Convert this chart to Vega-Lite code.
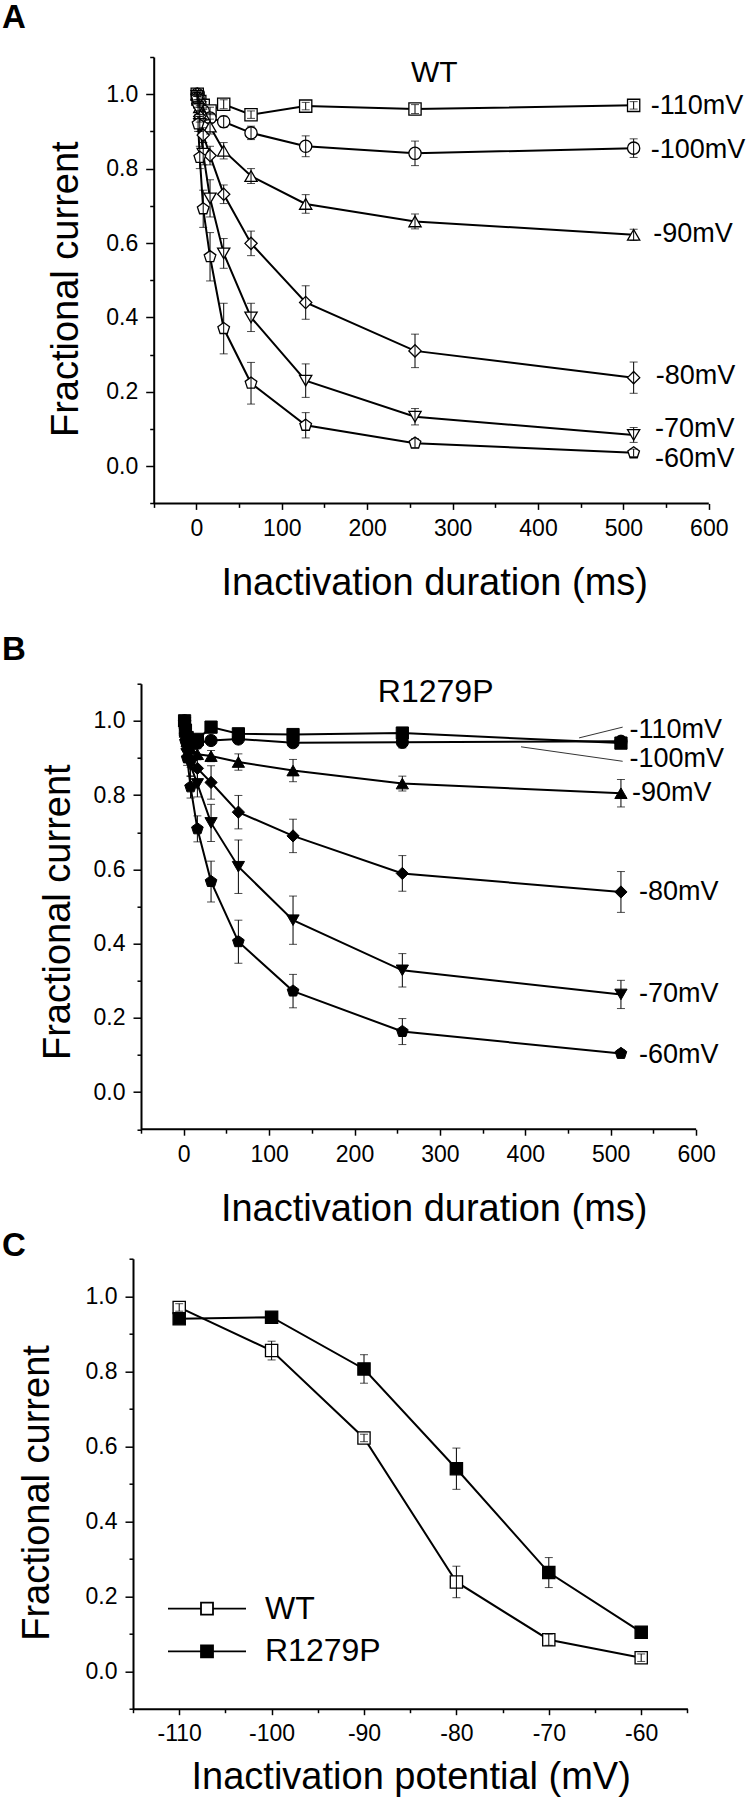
{
  "$schema": "https://vega.github.io/schema/vega-lite/v6.json",
  "padding": {"left": 2, "top": 2, "right": 0, "bottom": 0},
  "config": {
    "font": "Liberation Sans",
    "view": {"stroke": null},
    "axis": {"domainColor": "black", "domainWidth": 2, "tickColor": "black", "tickWidth": 1.5, "labelColor": "black", "labelFontSize": 23, "labelFont": "Liberation Sans", "titleFont": "Liberation Sans", "titleFontSize": 38, "titleFontWeight": "normal", "titleColor": "black", "grid": false, "labelPadding": 8, "labelFlush": false, "labelOverlap": false, "tickCount": 100},
    "title": {"font": "Liberation Sans", "color": "black"}
  },
  "resolve": {"legend": {"fill": "independent"}},
  "datasets": {
    "wt": [
      {"v":"-110mV","t":1,"y":1.0,"e":0.005},{"v":"-110mV","t":2,"y":0.99,"e":0.01},{"v":"-110mV","t":4,"y":0.98,"e":0.01},{"v":"-110mV","t":8,"y":0.97,"e":0.01},{"v":"-110mV","t":16,"y":0.955,"e":0.01},{"v":"-110mV","t":32,"y":0.973,"e":0.012},{"v":"-110mV","t":64,"y":0.945,"e":0.01},{"v":"-110mV","t":128,"y":0.968,"e":0.01},{"v":"-110mV","t":256,"y":0.960,"e":0.012},{"v":"-110mV","t":512,"y":0.970,"e":0.01},
      {"v":"-100mV","t":1,"y":1.0,"e":0.005},{"v":"-100mV","t":2,"y":0.99,"e":0.01},{"v":"-100mV","t":4,"y":0.975,"e":0.01},{"v":"-100mV","t":8,"y":0.955,"e":0.01},{"v":"-100mV","t":16,"y":0.936,"e":0.012},{"v":"-100mV","t":32,"y":0.926,"e":0.015},{"v":"-100mV","t":64,"y":0.896,"e":0.018},{"v":"-100mV","t":128,"y":0.860,"e":0.028},{"v":"-100mV","t":256,"y":0.841,"e":0.033},{"v":"-100mV","t":512,"y":0.855,"e":0.025},
      {"v":"-90mV","t":1,"y":1.0,"e":0.005},{"v":"-90mV","t":2,"y":0.985,"e":0.01},{"v":"-90mV","t":4,"y":0.965,"e":0.01},{"v":"-90mV","t":8,"y":0.945,"e":0.015},{"v":"-90mV","t":16,"y":0.913,"e":0.02},{"v":"-90mV","t":32,"y":0.848,"e":0.022},{"v":"-90mV","t":64,"y":0.780,"e":0.02},{"v":"-90mV","t":128,"y":0.705,"e":0.025},{"v":"-90mV","t":256,"y":0.658,"e":0.02},{"v":"-90mV","t":512,"y":0.622,"e":0.015},
      {"v":"-80mV","t":1,"y":1.0,"e":0.005},{"v":"-80mV","t":2,"y":0.975,"e":0.01},{"v":"-80mV","t":4,"y":0.94,"e":0.015},{"v":"-80mV","t":8,"y":0.89,"e":0.02},{"v":"-80mV","t":16,"y":0.835,"e":0.025},{"v":"-80mV","t":32,"y":0.731,"e":0.025},{"v":"-80mV","t":64,"y":0.599,"e":0.033},{"v":"-80mV","t":128,"y":0.440,"e":0.045},{"v":"-80mV","t":256,"y":0.310,"e":0.045},{"v":"-80mV","t":512,"y":0.238,"e":0.042},
      {"v":"-70mV","t":1,"y":0.995,"e":0.01},{"v":"-70mV","t":2,"y":0.96,"e":0.015},{"v":"-70mV","t":4,"y":0.92,"e":0.02},{"v":"-70mV","t":8,"y":0.84,"e":0.03},{"v":"-70mV","t":16,"y":0.720,"e":0.05},{"v":"-70mV","t":32,"y":0.572,"e":0.04},{"v":"-70mV","t":64,"y":0.400,"e":0.038},{"v":"-70mV","t":128,"y":0.230,"e":0.045},{"v":"-70mV","t":256,"y":0.133,"e":0.022},{"v":"-70mV","t":512,"y":0.084,"e":0.02},
      {"v":"-60mV","t":1,"y":0.99,"e":0.01},{"v":"-60mV","t":2,"y":0.92,"e":0.02},{"v":"-60mV","t":4,"y":0.83,"e":0.03},{"v":"-60mV","t":8,"y":0.692,"e":0.05},{"v":"-60mV","t":16,"y":0.563,"e":0.065},{"v":"-60mV","t":32,"y":0.370,"e":0.068},{"v":"-60mV","t":64,"y":0.223,"e":0.056},{"v":"-60mV","t":128,"y":0.110,"e":0.034},{"v":"-60mV","t":256,"y":0.062,"e":0.012},{"v":"-60mV","t":512,"y":0.036,"e":0.01}
    ],
    "mut": [
      {"v":"-110mV","t":1,"y":1.0,"e":0.005},{"v":"-110mV","t":2,"y":0.975,"e":0.01},{"v":"-110mV","t":4,"y":0.955,"e":0.01},{"v":"-110mV","t":8,"y":0.94,"e":0.01},{"v":"-110mV","t":16,"y":0.95,"e":0.01},{"v":"-110mV","t":32,"y":0.983,"e":0.01},{"v":"-110mV","t":64,"y":0.965,"e":0.01},{"v":"-110mV","t":128,"y":0.963,"e":0.01},{"v":"-110mV","t":256,"y":0.967,"e":0.01},{"v":"-110mV","t":512,"y":0.940,"e":0.01},
      {"v":"-100mV","t":1,"y":1.0,"e":0.005},{"v":"-100mV","t":2,"y":0.98,"e":0.01},{"v":"-100mV","t":4,"y":0.96,"e":0.01},{"v":"-100mV","t":8,"y":0.95,"e":0.01},{"v":"-100mV","t":16,"y":0.94,"e":0.01},{"v":"-100mV","t":32,"y":0.947,"e":0.01},{"v":"-100mV","t":64,"y":0.951,"e":0.01},{"v":"-100mV","t":128,"y":0.941,"e":0.012},{"v":"-100mV","t":256,"y":0.942,"e":0.015},{"v":"-100mV","t":512,"y":0.945,"e":0.01},
      {"v":"-90mV","t":1,"y":1.0,"e":0.005},{"v":"-90mV","t":2,"y":0.97,"e":0.01},{"v":"-90mV","t":4,"y":0.945,"e":0.01},{"v":"-90mV","t":8,"y":0.925,"e":0.015},{"v":"-90mV","t":16,"y":0.91,"e":0.015},{"v":"-90mV","t":32,"y":0.905,"e":0.015},{"v":"-90mV","t":64,"y":0.889,"e":0.022},{"v":"-90mV","t":128,"y":0.866,"e":0.03},{"v":"-90mV","t":256,"y":0.831,"e":0.02},{"v":"-90mV","t":512,"y":0.805,"e":0.037},
      {"v":"-80mV","t":1,"y":1.0,"e":0.005},{"v":"-80mV","t":2,"y":0.965,"e":0.01},{"v":"-80mV","t":4,"y":0.925,"e":0.015},{"v":"-80mV","t":8,"y":0.895,"e":0.02},{"v":"-80mV","t":16,"y":0.872,"e":0.03},{"v":"-80mV","t":32,"y":0.834,"e":0.045},{"v":"-80mV","t":64,"y":0.754,"e":0.045},{"v":"-80mV","t":128,"y":0.690,"e":0.045},{"v":"-80mV","t":256,"y":0.589,"e":0.048},{"v":"-80mV","t":512,"y":0.539,"e":0.055},
      {"v":"-70mV","t":1,"y":0.995,"e":0.01},{"v":"-70mV","t":2,"y":0.955,"e":0.015},{"v":"-70mV","t":4,"y":0.91,"e":0.02},{"v":"-70mV","t":8,"y":0.88,"e":0.03},{"v":"-70mV","t":16,"y":0.83,"e":0.035},{"v":"-70mV","t":32,"y":0.725,"e":0.05},{"v":"-70mV","t":64,"y":0.607,"e":0.072},{"v":"-70mV","t":128,"y":0.463,"e":0.065},{"v":"-70mV","t":256,"y":0.328,"e":0.045},{"v":"-70mV","t":512,"y":0.263,"e":0.038},
      {"v":"-60mV","t":1,"y":0.985,"e":0.01},{"v":"-60mV","t":2,"y":0.945,"e":0.015},{"v":"-60mV","t":4,"y":0.90,"e":0.02},{"v":"-60mV","t":8,"y":0.822,"e":0.03},{"v":"-60mV","t":16,"y":0.709,"e":0.035},{"v":"-60mV","t":32,"y":0.567,"e":0.055},{"v":"-60mV","t":64,"y":0.405,"e":0.058},{"v":"-60mV","t":128,"y":0.272,"e":0.045},{"v":"-60mV","t":256,"y":0.163,"e":0.035},{"v":"-60mV","t":512,"y":0.104,"e":0.01}
    ],
    "labA": [
      {"lab":"-110mV","x":532,"y":0.968},{"lab":"-100mV","x":532,"y":0.851},{"lab":"-90mV","x":535,"y":0.623},{"lab":"-80mV","x":538,"y":0.243},{"lab":"-70mV","x":537,"y":0.10},{"lab":"-60mV","x":537,"y":0.02}
    ],
    "labB": [
      {"lab":"-110mV","x":522,"y":0.976},{"lab":"-100mV","x":522,"y":0.896},{"lab":"-90mV","x":525,"y":0.806},{"lab":"-80mV","x":533,"y":0.539},{"lab":"-70mV","x":533,"y":0.263},{"lab":"-60mV","x":533,"y":0.10}
    ],
    "ptrB": [
      {"x":463,"y":0.954,"x2":514,"y2":0.983},{"x":395,"y":0.930,"x2":514,"y2":0.891}
    ],
    "ss": [
      {"g":"WT","v":-110,"y":0.970,"e":0.01},{"g":"WT","v":-100,"y":0.855,"e":0.025},{"g":"WT","v":-90,"y":0.622,"e":0.01},{"g":"WT","v":-80,"y":0.238,"e":0.042},{"g":"WT","v":-70,"y":0.084,"e":0.015},{"g":"WT","v":-60,"y":0.036,"e":0.01},
      {"g":"R1279P","v":-110,"y":0.940,"e":0.01},{"g":"R1279P","v":-100,"y":0.944,"e":0.01},{"g":"R1279P","v":-90,"y":0.806,"e":0.038},{"g":"R1279P","v":-80,"y":0.540,"e":0.055},{"g":"R1279P","v":-70,"y":0.263,"e":0.04},{"g":"R1279P","v":-60,"y":0.104,"e":0.01}
    ]
  },
  "spacing": 0.7,
  "vconcat": [
    {
      "spacing": 30.7,
      "vconcat": [
        {
          "width": 575.8,
          "height": 446.4,
          "title": {"text": "A", "anchor": "start", "frame": "group", "dx": -131, "dy": 15, "offset": 0, "fontSize": 33, "fontWeight": "bold", "baseline": "alphabetic"},
          "layer": [
            {
              "data": {"name": "wt"},
              "mark": {"type": "line", "color": "black", "strokeWidth": 2},
              "encoding": {
                "x": {"field": "t", "type": "quantitative", "title": "Inactivation duration (ms)", "scale": {"domain": [-74.2, 600], "nice": false, "zero": false},
                  "axis": {"domain": false, "values": [-50,0,50,100,150,200,250,300,350,400,450,500,550,600],
                    "labelExpr": "datum.value >= 0 && datum.value % 100 == 0 ? datum.label : ''",
                    "tickSize": {"condition": {"test": "datum.value % 100 == 0", "value": 6}, "value": 4},
                    "titleX": 301.2, "titleY": 91, "titleBaseline": "alphabetic", "titleAlign": "center"}},
                "y": {"field": "y", "type": "quantitative", "title": "Fractional current", "scale": {"domain": [-0.1, 1.1], "nice": false, "zero": false},
                  "axis": {"offset": -20.7, "values": [-0.1,0,0.1,0.2,0.3,0.4,0.5,0.6,0.7,0.8,0.9,1.0,1.1], "format": ".1f",
                    "labelExpr": "(round(datum.value*10) % 2 == 0) ? datum.label : ''",
                    "tickSize": {"condition": {"test": "round(datum.value*10) % 2 == 0", "value": 8}, "value": 4},
                    "titleX": -76.5, "titleY": 231.7, "titleBaseline": "alphabetic", "titleAlign": "center", "titleAngle": -90}},
                "detail": {"field": "v"}
              }
            },
            {
              "data": {"name": "wt"},
              "mark": {"type": "point", "filled": false, "fill": "white", "fillOpacity": 1, "stroke": "black", "strokeWidth": 1.3, "size": 150, "opacity": 1},
              "encoding": {
                "x": {"field": "t", "type": "quantitative", "title": "Inactivation duration (ms)"},
                "y": {"field": "y", "type": "quantitative", "title": "Fractional current"},
                "shape": {"field": "v", "type": "nominal", "legend": null,
                  "scale": {"domain": ["-110mV","-100mV","-90mV","-80mV","-70mV","-60mV"], "range": ["square","circle","triangle-up","diamond","triangle-down","M0,-1L0.951,-0.309L0.588,0.809L-0.588,0.809L-0.951,-0.309Z"]}}
              }
            },
            {
              "data": {"name": "wt"},
              "mark": {"type": "errorbar", "ticks": {"size": 8, "color": "black"}, "color": "black", "thickness": 1},
              "encoding": {
                "x": {"field": "t", "type": "quantitative", "title": "Inactivation duration (ms)"},
                "y": {"field": "y", "type": "quantitative", "title": "Fractional current"},
                "yError": {"field": "e"}
              }
            },
            {
              "data": {"name": "labA"},
              "mark": {"type": "text", "align": "left", "baseline": "middle", "fontSize": 27, "font": "Liberation Sans", "color": "black"},
              "encoding": {
                "x": {"field": "x", "type": "quantitative", "title": "Inactivation duration (ms)"},
                "y": {"field": "y", "type": "quantitative", "title": "Fractional current"},
                "text": {"field": "lab"}
              }
            },
            {
              "data": {"values": [{"x": 278.6, "y": 1.058, "lab": "WT"}]},
              "mark": {"type": "text", "align": "center", "baseline": "middle", "fontSize": 30, "font": "Liberation Sans", "color": "black"},
              "encoding": {
                "x": {"field": "x", "type": "quantitative", "title": "Inactivation duration (ms)"},
                "y": {"field": "y", "type": "quantitative", "title": "Fractional current"},
                "text": {"field": "lab"}
              }
            },
            {
              "data": {"values": [{"x": -50, "x2": 600, "y": -0.1}]},
              "mark": {"type": "rule", "color": "black", "strokeWidth": 2},
              "encoding": {
                "x": {"field": "x", "type": "quantitative", "title": "Inactivation duration (ms)"},
                "x2": {"field": "x2"},
                "y": {"field": "y", "type": "quantitative", "title": "Fractional current"}
              }
            }
          ]
        },
        {
          "width": 563.1,
          "height": 445.5,
          "title": {"text": "B", "anchor": "start", "frame": "group", "dx": -131, "dy": 20.3, "offset": 0, "fontSize": 33, "fontWeight": "bold", "baseline": "alphabetic"},
          "layer": [
            {
              "data": {"name": "mut"},
              "mark": {"type": "line", "color": "black", "strokeWidth": 2},
              "encoding": {
                "x": {"field": "t", "type": "quantitative", "title": "Inactivation duration (ms)", "scale": {"domain": [-59.4, 600], "nice": false, "zero": false},
                  "axis": {"domain": false, "values": [-50,0,50,100,150,200,250,300,350,400,450,500,550,600],
                    "labelExpr": "datum.value >= 0 && datum.value % 100 == 0 ? datum.label : ''",
                    "tickSize": {"condition": {"test": "datum.value % 100 == 0", "value": 6}, "value": 4},
                    "titleX": 300.7, "titleY": 91, "titleBaseline": "alphabetic", "titleAlign": "center"}},
                "y": {"field": "y", "type": "quantitative", "title": "Fractional current", "scale": {"domain": [-0.1, 1.1], "nice": false, "zero": false},
                  "axis": {"offset": -8, "values": [-0.1,0,0.1,0.2,0.3,0.4,0.5,0.6,0.7,0.8,0.9,1.0,1.1], "format": ".1f",
                    "labelExpr": "(round(datum.value*10) % 2 == 0) ? datum.label : ''",
                    "tickSize": {"condition": {"test": "round(datum.value*10) % 2 == 0", "value": 8}, "value": 4},
                    "titleX": -71.6, "titleY": 228, "titleBaseline": "alphabetic", "titleAlign": "center", "titleAngle": -90}},
                "detail": {"field": "v"}
              }
            },
            {
              "data": {"name": "mut"},
              "mark": {"type": "point", "filled": true, "fill": "black", "fillOpacity": 1, "stroke": "black", "strokeWidth": 1, "size": 150, "opacity": 1},
              "encoding": {
                "x": {"field": "t", "type": "quantitative", "title": "Inactivation duration (ms)"},
                "y": {"field": "y", "type": "quantitative", "title": "Fractional current"},
                "shape": {"field": "v", "type": "nominal", "legend": null,
                  "scale": {"domain": ["-110mV","-100mV","-90mV","-80mV","-70mV","-60mV"], "range": ["square","circle","triangle-up","diamond","triangle-down","M0,-1L0.951,-0.309L0.588,0.809L-0.588,0.809L-0.951,-0.309Z"]}}
              }
            },
            {
              "data": {"name": "mut"},
              "mark": {"type": "errorbar", "ticks": {"size": 8, "color": "black"}, "color": "black", "thickness": 1},
              "encoding": {
                "x": {"field": "t", "type": "quantitative", "title": "Inactivation duration (ms)"},
                "y": {"field": "y", "type": "quantitative", "title": "Fractional current"},
                "yError": {"field": "e"}
              }
            },
            {
              "data": {"name": "ptrB"},
              "mark": {"type": "rule", "color": "black", "strokeWidth": 0.8},
              "encoding": {
                "x": {"field": "x", "type": "quantitative", "title": "Inactivation duration (ms)"},
                "y": {"field": "y", "type": "quantitative", "title": "Fractional current"},
                "x2": {"field": "x2"},
                "y2": {"field": "y2"}
              }
            },
            {
              "data": {"name": "labB"},
              "mark": {"type": "text", "align": "left", "baseline": "middle", "fontSize": 27, "font": "Liberation Sans", "color": "black"},
              "encoding": {
                "x": {"field": "x", "type": "quantitative", "title": "Inactivation duration (ms)"},
                "y": {"field": "y", "type": "quantitative", "title": "Fractional current"},
                "text": {"field": "lab"}
              }
            },
            {
              "data": {"values": [{"x": 295, "y": 1.077, "lab": "R1279P"}]},
              "mark": {"type": "text", "align": "center", "baseline": "middle", "fontSize": 32, "font": "Liberation Sans", "color": "black"},
              "encoding": {
                "x": {"field": "x", "type": "quantitative", "title": "Inactivation duration (ms)"},
                "y": {"field": "y", "type": "quantitative", "title": "Fractional current"},
                "text": {"field": "lab"}
              }
            },
            {
              "data": {"values": [{"x": -50, "x2": 600, "y": -0.1}]},
              "mark": {"type": "rule", "color": "black", "strokeWidth": 2},
              "encoding": {
                "x": {"field": "x", "type": "quantitative", "title": "Inactivation duration (ms)"},
                "x2": {"field": "x2"},
                "y": {"field": "y", "type": "quantitative", "title": "Fractional current"}
              }
            }
          ]
        }
      ]
    },
    {
      "width": 554.4,
      "height": 450,
      "title": {"text": "C", "anchor": "start", "frame": "group", "dx": -131, "dy": 41, "offset": 0, "fontSize": 33, "fontWeight": "bold", "baseline": "alphabetic"},
      "data": {"name": "ss"},
      "layer": [
        {
          "mark": {"type": "line", "color": "black", "strokeWidth": 2},
          "encoding": {
            "x": {"field": "v", "type": "quantitative", "title": "Inactivation potential (mV)", "scale": {"domain": [-115, -55], "nice": false, "zero": false},
              "axis": {"values": [-115,-110,-105,-100,-95,-90,-85,-80,-75,-70,-65,-60,-55],
                "labelExpr": "datum.value % 10 == 0 ? toString(datum.value) : ''",
                "tickSize": {"condition": {"test": "datum.value % 10 == 0", "value": 6}, "value": 4},
                "titleX": 277.7, "titleY": 80, "titleBaseline": "alphabetic", "titleAlign": "center"}},
            "y": {"field": "y", "type": "quantitative", "title": "Fractional current", "scale": {"domain": [-0.1, 1.1], "nice": false, "zero": false},
              "axis": {"values": [-0.1,0,0.1,0.2,0.3,0.4,0.5,0.6,0.7,0.8,0.9,1.0,1.1], "format": ".1f",
                "labelExpr": "(round(datum.value*10) % 2 == 0) ? datum.label : ''",
                "tickSize": {"condition": {"test": "round(datum.value*10) % 2 == 0", "value": 8}, "value": 4},
                "titleX": -84.1, "titleY": 233.8, "titleBaseline": "alphabetic", "titleAlign": "center", "titleAngle": -90}},
            "detail": {"field": "g"}
          }
        },
        {
          "mark": {"type": "point", "shape": "square", "filled": true, "stroke": "black", "strokeWidth": 1.3, "size": 150, "opacity": 1, "fillOpacity": 1},
          "encoding": {
            "x": {"field": "v", "type": "quantitative", "title": "Inactivation potential (mV)"},
            "y": {"field": "y", "type": "quantitative", "title": "Fractional current"},
            "fill": {"field": "g", "type": "nominal",
              "scale": {"domain": ["WT", "R1279P"], "range": ["white", "black"]},
              "legend": {"orient": "none", "legendX": 58, "legendY": 334, "title": null, "padding": 0,
                "symbolType": "M-6.5,0H-1M1,0H6.5M-1,-1H1V1H-1Z", "symbolSize": 144, "symbolStrokeColor": "black", "symbolStrokeWidth": 1.8,
                "labelFontSize": 32, "labelFont": "Liberation Sans", "labelColor": "black", "labelOffset": 42, "rowPadding": 10.6}}
          }
        },
        {
          "mark": {"type": "errorbar", "ticks": {"size": 8, "color": "black"}, "color": "black", "thickness": 1},
          "encoding": {
            "x": {"field": "v", "type": "quantitative", "title": "Inactivation potential (mV)"},
            "y": {"field": "y", "type": "quantitative", "title": "Fractional current"},
            "yError": {"field": "e"}
          }
        }
      ]
    }
  ]
}
